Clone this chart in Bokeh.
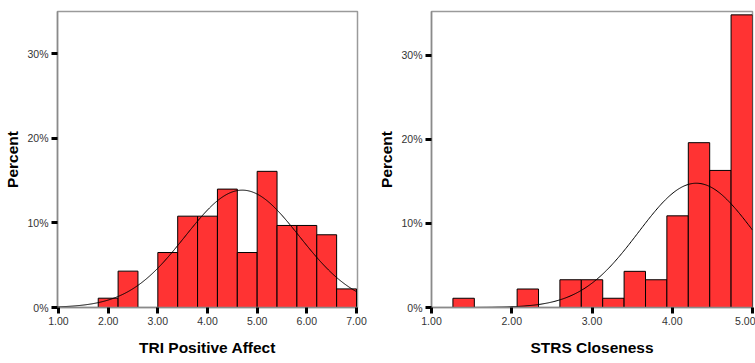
import numpy as np
from bokeh.plotting import figure
from bokeh.layouts import row
from bokeh.models import FixedTicker, NumeralTickFormatter, PrintfTickFormatter, Range1d
from bokeh.embed import file_html
from bokeh.resources import INLINE

# ---- data: TRI Positive Affect ----
tri_bin_left = [1.8, 2.2, 3.0, 3.4, 3.8, 4.2, 4.6, 5.0, 5.4, 5.8, 6.2, 6.6]
tri_bin_width = 0.4
tri_percent = [1.1, 4.3, 6.5, 10.8, 10.8, 14.0, 6.5, 16.1, 9.7, 9.7, 8.6, 2.2]
tri_mean, tri_sd = 4.70, 1.15
tri_ticks = [1, 2, 3, 4, 5, 6, 7]

# ---- data: STRS Closeness ----
strs_bin_left = [1.267, 2.067, 2.6, 2.867, 3.133, 3.4, 3.667, 3.933, 4.2, 4.467, 4.733]
strs_bin_width = 0.2667
strs_percent = [1.1, 2.2, 3.3, 3.3, 1.1, 4.3, 3.3, 10.9, 19.6, 16.3, 34.8]
strs_mean, strs_sd = 4.30, 0.72
strs_ticks = [1, 2, 3, 4, 5]

y_ticks = [0, 10, 20, 30]

FONT = "Liberation Sans"
BAR = "#ff3333"


def make(title, lefts, width, pct, mean, sd, xr, yr, ticks, w, h, mbl, mbr, mbt, mbb):
    p = figure(width=w, height=h, output_backend="svg", toolbar_location=None,
               x_range=Range1d(*xr), y_range=Range1d(*yr),
               min_border_left=mbl, min_border_right=mbr,
               min_border_top=mbt, min_border_bottom=mbb)
    lefts = np.array(lefts)
    p.quad(left=lefts, right=lefts + width, bottom=0, top=pct,
           fill_color=BAR, line_color="black", line_width=1)
    xs = np.linspace(xr[0], min(xr[1], ticks[-1]), 300)
    ys = 100 * width / (sd * np.sqrt(2 * np.pi)) * np.exp(-0.5 * ((xs - mean) / sd) ** 2)
    p.line(xs, ys, line_color="black", line_width=1)

    p.grid.visible = False
    p.outline_line_color = "#9a9a9a"
    p.outline_line_width = 1.5
    p.background_fill_color = "white"
    p.border_fill_color = "white"

    for ax in (p.xaxis[0], p.yaxis[0]):
        ax.axis_line_color = "#8a8a8a"
        ax.axis_line_width = 1.5
        ax.major_tick_line_color = "black"
        ax.major_tick_line_width = 3
        ax.major_tick_out = 6
        ax.major_tick_in = 0
        ax.minor_tick_line_color = None
        ax.major_label_text_font = FONT
        ax.major_label_text_font_size = "10.5px"
        ax.major_label_text_color = "#333333"
        ax.axis_label_text_font = FONT
        ax.axis_label_text_font_style = "bold"
        ax.axis_label_text_font_size = "15.5px"
        ax.axis_label_text_color = "black"

    p.xaxis.ticker = FixedTicker(ticks=ticks)
    p.xaxis.formatter = NumeralTickFormatter(format="0.00")
    p.xaxis.axis_label = title
    p.xaxis.major_label_standoff = 3
    p.xaxis.axis_label_standoff = 11

    p.yaxis.ticker = FixedTicker(ticks=y_ticks)
    p.yaxis.formatter = PrintfTickFormatter(format="%d%%")
    p.yaxis.axis_label = "Percent"
    p.yaxis.major_label_standoff = 3
    p.yaxis.axis_label_standoff = 3
    p.yaxis.major_label_orientation = "horizontal"
    return p


p1 = make("TRI Positive Affect", tri_bin_left, tri_bin_width, tri_percent, tri_mean, tri_sd,
          (0.98, 7.02), (0, 35.0), tri_ticks, 375, 363, 57, 18, 11, 56)
p2 = make("STRS Closeness", strs_bin_left, strs_bin_width, strs_percent, strs_mean, strs_sd,
          (1.0, 5.0), (0, 35.2), strs_ticks, 380, 363, 56, 3, 11, 52)

layout = row(p1, p2)
open("out.html", "w").write(file_html(layout, INLINE))
